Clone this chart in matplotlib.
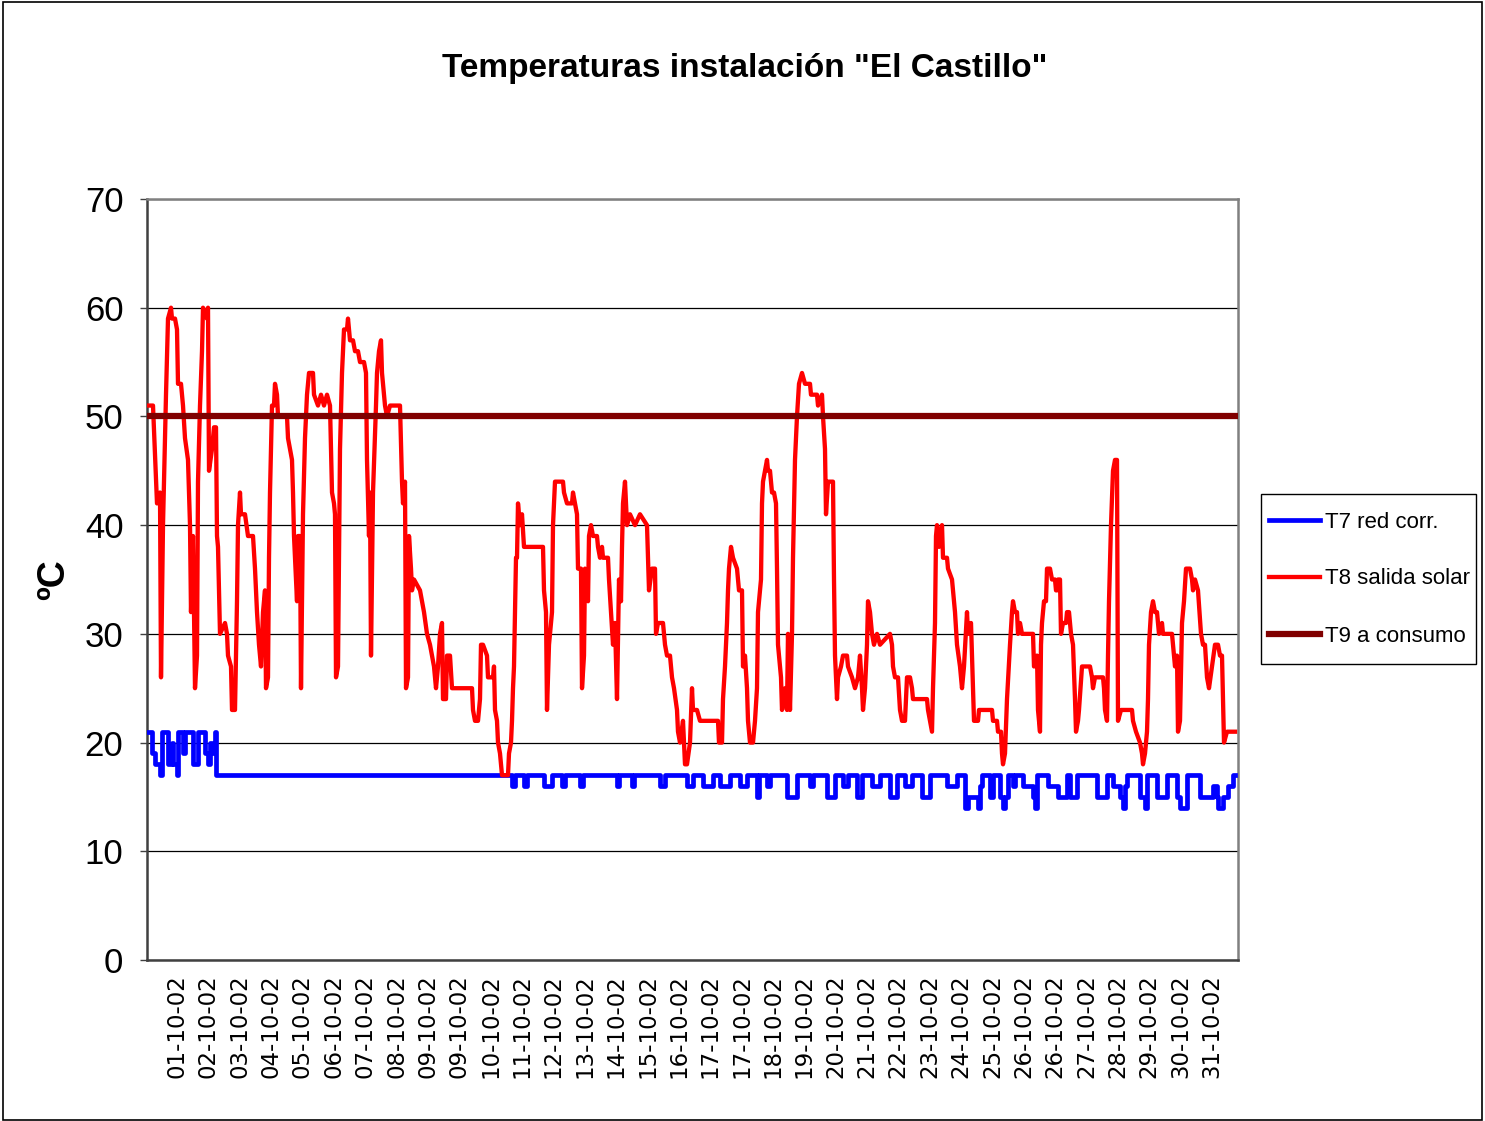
import numpy as np
import matplotlib
matplotlib.use('Agg')
import matplotlib.pyplot as plt
from matplotlib import font_manager
from matplotlib.patches import Rectangle

names = {f.name for f in font_manager.fontManager.ttflist}
narrow = 'Liberation Sans Narrow' if 'Liberation Sans Narrow' in names else 'Liberation Sans'

# sample index along the logging period, temperature in ºC
t8_idx = [0, 6, 10, 13, 14, 16, 19, 21, 24, 25, 28, 30, 31, 34, 36, 38, 41, 43, 44, 46,
          48, 50, 51, 53, 55, 56, 60, 61, 62, 65, 67, 69, 70, 71, 73, 78, 80, 81, 84, 85,
          88, 90, 91, 93, 94, 98, 101, 106, 108, 110, 112, 114, 116, 118, 119, 121, 122, 123, 125, 127,
          128, 130, 131, 140, 141, 145, 146, 147, 150, 151, 153, 154, 156, 158, 160, 162, 166, 167, 171, 174,
          177, 180, 183, 185, 187, 188, 189, 191, 193, 195, 197, 200, 201, 203, 206, 208, 211, 213, 217, 219,
          220, 222, 223, 224, 226, 229, 230, 232, 234, 235, 238, 240, 243, 253, 255, 256, 258, 259, 261, 262,
          264, 265, 267, 273, 275, 277, 280, 283, 285, 287, 289, 291, 293, 295, 296, 299, 300, 303, 305, 325,
          326, 328, 331, 333, 334, 336, 340, 341, 346, 347, 348, 350, 351, 353, 355, 361, 362, 364, 365, 366,
          367, 368, 369, 370, 371, 373, 375, 377, 396, 397, 399, 400, 402, 405, 406, 408, 416, 417, 420, 425,
          426, 428, 430, 431, 434, 435, 437, 438, 440, 441, 442, 444, 446, 450, 451, 453, 455, 456, 461, 462,
          464, 466, 468, 470, 472, 474, 475, 476, 478, 480, 483, 488, 493, 500, 501, 502, 505, 508, 509, 511,
          516, 518, 520, 523, 525, 527, 530, 531, 533, 536, 538, 540, 543, 545, 546, 550, 553, 571, 572, 575,
          576, 578, 580, 581, 582, 584, 586, 590, 592, 595, 596, 598, 600, 601, 603, 606, 608, 610, 611, 614,
          615, 616, 618, 620, 621, 623, 625, 627, 629, 630, 631, 634, 635, 638, 640, 641, 643, 645, 646, 648,
          650, 652, 655, 658, 663, 664, 670, 671, 675, 676, 678, 679, 681, 686, 687, 688, 690, 691, 694, 696,
          700, 701, 705, 708, 711, 713, 715, 716, 718, 720, 721, 723, 725, 727, 730, 733, 743, 745, 746, 748,
          751, 753, 755, 758, 760, 763, 765, 766, 780, 781, 783, 785, 786, 788, 789, 790, 792, 795, 796, 800,
          801, 805, 806, 808, 810, 813, 815, 817, 820, 821, 824, 825, 826, 827, 831, 832, 845, 846, 850, 851,
          854, 855, 856, 858, 860, 863, 865, 866, 868, 870, 871, 873, 875, 886, 887, 890, 891, 893, 894, 895,
          897, 899, 900, 903, 905, 908, 909, 910, 911, 913, 914, 916, 919, 920, 922, 924, 926, 928, 929, 931,
          932, 935, 943, 945, 946, 948, 956, 957, 958, 960, 961, 962, 964, 966, 968, 970, 971, 974, 985, 986,
          989, 993, 995, 996, 998, 1000, 1001, 1002, 1004, 1006, 1008, 1010, 1012, 1015, 1016, 1025, 1026, 1028, 1030, 1031,
          1033, 1035, 1037, 1039, 1043, 1045, 1046, 1048, 1051, 1054, 1056, 1058, 1060, 1062, 1065, 1068, 1071, 1073, 1075, 1077,
          1080, 1088]
t8_temp = [51, 51, 42, 43, 26, 40, 52, 59, 60, 59, 59, 58, 53, 53, 51, 48, 46, 40, 32, 39,
           25, 28, 44, 51, 56, 60, 59, 60, 45, 47, 49, 49, 39, 38, 30, 31, 30, 28, 27, 23,
           23, 33, 40, 43, 41, 41, 39, 39, 36, 32, 29, 27, 32, 34, 25, 26, 37, 43, 51, 51,
           53, 52, 50, 50, 48, 46, 43, 39, 33, 39, 39, 25, 41, 48, 52, 54, 54, 52, 51, 52,
           51, 52, 51, 43, 42, 41, 26, 27, 47, 54, 58, 58, 59, 57, 57, 56, 56, 55, 55, 54,
           46, 39, 43, 28, 43, 51, 54, 56, 57, 54, 51, 50, 51, 51, 44, 42, 44, 25, 26, 39,
           36, 34, 35, 34, 33, 32, 30, 29, 28, 27, 25, 27, 30, 31, 24, 24, 28, 28, 25, 25,
           23, 22, 22, 24, 29, 29, 28, 26, 26, 27, 23, 22, 20, 19, 17, 17, 19, 20, 22, 25,
           27, 32, 37, 37, 42, 40, 41, 38, 38, 34, 32, 23, 29, 32, 40, 44, 44, 43, 42, 42,
           43, 42, 41, 36, 36, 25, 28, 36, 34, 33, 39, 40, 39, 39, 38, 37, 38, 37, 37, 35,
           32, 29, 31, 24, 35, 33, 38, 42, 44, 40, 41, 40, 41, 40, 37, 34, 36, 36, 30, 31,
           31, 29, 28, 28, 26, 25, 23, 21, 20, 22, 18, 18, 20, 25, 23, 23, 22, 22, 20, 20,
           24, 27, 31, 34, 36, 38, 37, 36, 34, 34, 27, 28, 25, 22, 20, 20, 22, 25, 32, 35,
           42, 44, 45, 46, 45, 45, 43, 43, 42, 36, 29, 26, 23, 25, 23, 30, 23, 30, 37, 46,
           50, 53, 54, 53, 53, 52, 52, 51, 52, 50, 47, 41, 44, 44, 35, 28, 24, 26, 27, 28,
           28, 27, 26, 25, 26, 28, 25, 23, 25, 29, 33, 32, 30, 29, 30, 29, 30, 29, 27, 26,
           26, 23, 22, 22, 26, 26, 25, 24, 24, 23, 22, 21, 25, 31, 39, 40, 38, 40, 37, 37,
           36, 35, 34, 32, 29, 27, 25, 27, 32, 30, 31, 28, 25, 22, 22, 23, 23, 22, 22, 21,
           21, 19, 18, 19, 24, 29, 32, 33, 32, 32, 30, 31, 30, 30, 27, 28, 23, 21, 29, 31,
           33, 33, 36, 36, 35, 35, 34, 34, 35, 35, 30, 31, 31, 32, 32, 30, 29, 24, 21, 22,
           23, 27, 27, 26, 25, 26, 26, 25, 23, 22, 28, 33, 40, 45, 46, 46, 22, 23, 23, 22,
           21, 20, 19, 18, 19, 21, 24, 29, 32, 33, 32, 32, 30, 31, 30, 30, 29, 27, 28, 21,
           22, 31, 33, 36, 36, 35, 34, 35, 34, 30, 29, 29, 26, 25, 27, 29, 29, 28, 28, 20,
           21, 21]

# T7 steps (value holds until next index)
t7_idx = [0, 5, 8, 13, 15, 21, 25, 26, 30, 31, 36, 38, 46, 51, 58, 61, 63, 65, 68, 69,
          365, 368, 377, 380, 397, 405, 415, 418, 433, 436, 470, 472, 485, 487, 513, 518, 540, 546,
          556, 566, 573, 583, 593, 600, 610, 612, 620, 623, 640, 650, 663, 666, 680, 688, 696, 701,
          710, 715, 725, 733, 743, 750, 758, 765, 775, 783, 800, 810, 818, 821, 831, 833, 835,
          843, 846, 853, 856, 858, 861, 866, 868, 876, 886, 888, 890, 901, 911, 920, 923, 930,
          950, 960, 966, 973, 976, 978, 980, 993, 998, 1000, 1010, 1020, 1030, 1033, 1040,
          1053, 1066, 1070, 1071, 1076, 1081, 1086, 1088]
t7_temp = [21, 19, 18, 17, 21, 18, 20, 18, 17, 21, 19, 21, 18, 21, 19, 18, 20, 19, 21, 17,
           16, 17, 16, 17, 16, 17, 16, 17, 16, 17, 16, 17, 16, 17, 16, 17, 16, 17,
           16, 17, 16, 17, 16, 17, 15, 17, 16, 17, 15, 17, 16, 17, 15, 17, 16, 17,
           15, 17, 16, 17, 15, 17, 16, 17, 15, 17, 16, 17, 14, 15, 14, 16, 17,
           15, 17, 15, 14, 15, 17, 16, 17, 16, 15, 14, 17, 16, 15, 17, 15, 17,
           15, 17, 16, 15, 14, 16, 17, 15, 14, 17, 15, 17, 15, 14, 17,
           15, 16, 15, 14, 15, 16, 17, 17]

t9_idx = [0, 1088]
t9_temp = [50, 50]

day_labels = ['01-10-02', '02-10-02', '03-10-02', '04-10-02', '05-10-02', '06-10-02', '07-10-02',
              '08-10-02', '09-10-02', '09-10-02', '10-10-02', '11-10-02', '12-10-02', '13-10-02',
              '14-10-02', '15-10-02', '16-10-02', '17-10-02', '17-10-02', '18-10-02', '19-10-02',
              '20-10-02', '21-10-02', '22-10-02', '23-10-02', '24-10-02', '25-10-02', '26-10-02',
              '26-10-02', '27-10-02', '28-10-02', '29-10-02', '30-10-02', '31-10-02']

W, H = 1485, 1121
fig = plt.figure(figsize=(W/100, H/100), dpi=100)
ax = fig.add_axes([147/W, 1 - 960/H, (1238-147)/W, (960-199)/H])

ax.plot(t7_idx, t7_temp, color='#0000FF', lw=3.4, drawstyle='steps-post', label='T7 red corr.',
        solid_joinstyle='round', zorder=3)
ax.plot(t8_idx, t8_temp, color='#FF0000', lw=3.1, label='T8 salida solar',
        solid_joinstyle='round', zorder=4)
ax.plot(t9_idx, t9_temp, color='#800000', lw=4.5, label='T9 a consumo', zorder=5)

ax.set_xlim(0, 1091)
ax.set_ylim(0, 70)
ax.set_yticks(range(0, 71, 10))
ax.grid(axis='y', color='black', lw=0.9)
ax.set_axisbelow(True)

for s in ax.spines.values():
    s.set_color('#808080')
    s.set_linewidth(1.8)
ax.spines['left'].set_color('#404040')
ax.spines['bottom'].set_color('#404040')

ax.tick_params(axis='y', length=5, width=1, color='#404040', pad=12)
for lab in ax.get_yticklabels():
    lab.set_fontfamily(narrow)
    lab.set_fontsize(25)

ax.set_xticks(np.linspace(30, 1065, len(day_labels)))
ax.set_xticklabels(day_labels, rotation=90, fontsize=16.5, family='DejaVu Sans')
ax.tick_params(axis='x', length=0, pad=10)

ax.set_ylabel('ºC', fontsize=27, fontweight='bold', family='Liberation Sans')
ax.yaxis.set_label_coords(-0.069, 0.5)

fig.text(745/W, 1 - 68/H, 'Temperaturas instalación "El Castillo"', ha='center', va='center',
         fontsize=24, fontweight='bold', family=narrow)

# legend entries without frame, box drawn separately
leg = ax.legend(loc='center left', bbox_to_anchor=((1261-147)/1091, (960-579)/761),
                borderaxespad=0, frameon=False, borderpad=0.35,
                handlelength=2.3, handletextpad=0.25, labelspacing=1.62,
                prop={'family': narrow, 'size': 16})
fig.patches.append(Rectangle((1261/W, 1 - 664/H), (1476-1261)/W, (664-494)/H,
                             transform=fig.transFigure, fill=False, edgecolor='black', lw=1.0))

fig.patches.append(Rectangle((0.002, 0.001), 0.996, 0.997, transform=fig.transFigure,
                             fill=False, edgecolor='black', lw=1.2))

fig.savefig('out.png', dpi=100)
